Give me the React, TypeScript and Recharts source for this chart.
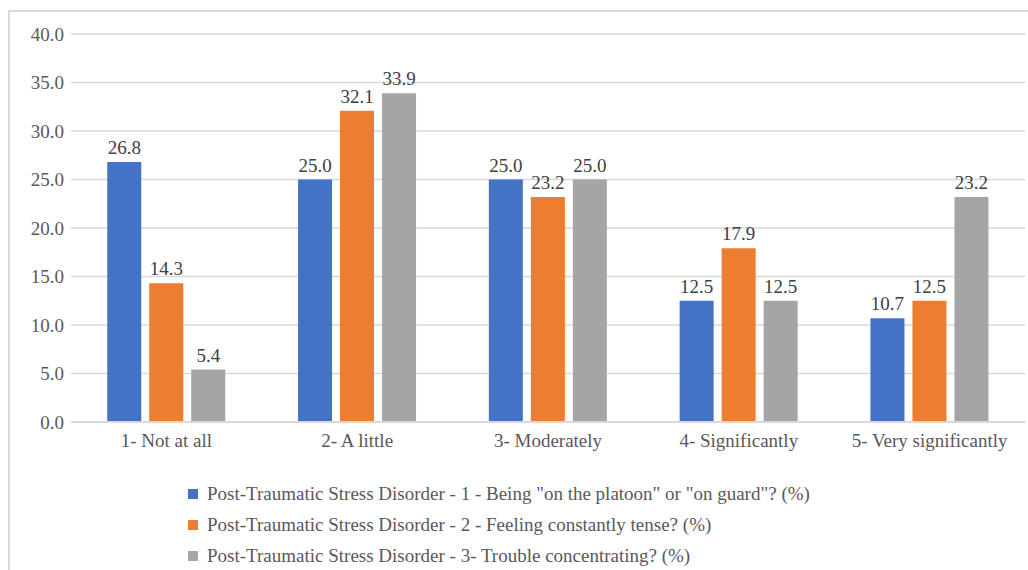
import { BarChart, Bar, XAxis, YAxis, CartesianGrid, LabelList } from 'recharts';

const categories = ['1- Not at all', '2- A little', '3- Moderately', '4- Significantly', '5- Very significantly'];
const onGuard = [26.8, 25.0, 25.0, 12.5, 10.7];
const tense = [14.3, 32.1, 23.2, 17.9, 12.5];
const concentrating = [5.4, 33.9, 25.0, 12.5, 23.2];
const yTicks = [0, 5, 10, 15, 20, 25, 30, 35, 40];

const SERIES = [
  { key: 'onGuard', name: 'Post-Traumatic Stress Disorder - 1 - Being "on the platoon" or "on guard"? (%)', color: '#4472C4' },
  { key: 'tense', name: 'Post-Traumatic Stress Disorder - 2 - Feeling constantly tense? (%)', color: '#ED7D31' },
  { key: 'concentrating', name: 'Post-Traumatic Stress Disorder - 3- Trouble concentrating? (%)', color: '#A5A5A5' },
];

const data = categories.map((name, i) => ({
  name,
  onGuard: onGuard[i],
  tense: tense[i],
  concentrating: concentrating[i],
}));

const FONT = "'Liberation Serif', 'Times New Roman', serif";

export default function App() {
  return (
    <div style={{ position: 'absolute', left: 0, top: 0, width: 1028, height: 570, overflow: 'hidden', background: '#fff', fontFamily: FONT }}>
      {/* chart frame */}
      <div style={{ position: 'absolute', left: 8, top: 10, width: 1040, height: 600, borderLeft: '2px solid #d9d9d9', borderTop: '2px solid #d9d9d9' }} />
      <BarChart
        width={1028}
        height={570}
        data={data}
        margin={{ top: 34, right: 3, left: 11, bottom: 118 }}
        barCategoryGap="19%"
        barGap={8}
      >
        <CartesianGrid vertical={false} stroke="#d9d9d9" strokeWidth={1.5} />
        <XAxis
          dataKey="name"
          height={30}
          tickLine={false}
          axisLine={{ stroke: '#d9d9d9', strokeWidth: 2 }}
          tickSize={0}
          tickMargin={12}
          tick={{ fontSize: 19, fill: '#595959', fontFamily: FONT }}
          interval={0}
        />
        <YAxis
          width={60}
          domain={[0, 40]}
          ticks={yTicks}
          axisLine={false}
          tickLine={false}
          tickSize={0}
          tickMargin={7}
          tickFormatter={(v: number) => v.toFixed(1)}
          tick={{ fontSize: 19, fill: '#595959', fontFamily: FONT }}
        />
        {SERIES.map((s) => (
          <Bar key={s.key} dataKey={s.key} name={s.name} fill={s.color} isAnimationActive={false}>
            <LabelList
              dataKey={s.key}
              position="top"
              offset={8}
              formatter={(v: number) => v.toFixed(1)}
              style={{ fontSize: 19, fill: '#404040', fontFamily: FONT }}
            />
          </Bar>
        ))}
      </BarChart>
      {/* legend */}
      <div style={{ position: 'absolute', left: 188, top: 478, fontSize: 19, color: '#595959' }}>
        {SERIES.map((s) => (
          <div key={s.key} style={{ display: 'flex', alignItems: 'center', height: 31 }}>
            <span style={{ width: 10, height: 10, background: s.color, marginRight: 9, display: 'inline-block' }} />
            <span>{s.name}</span>
          </div>
        ))}
      </div>
    </div>
  );
}
